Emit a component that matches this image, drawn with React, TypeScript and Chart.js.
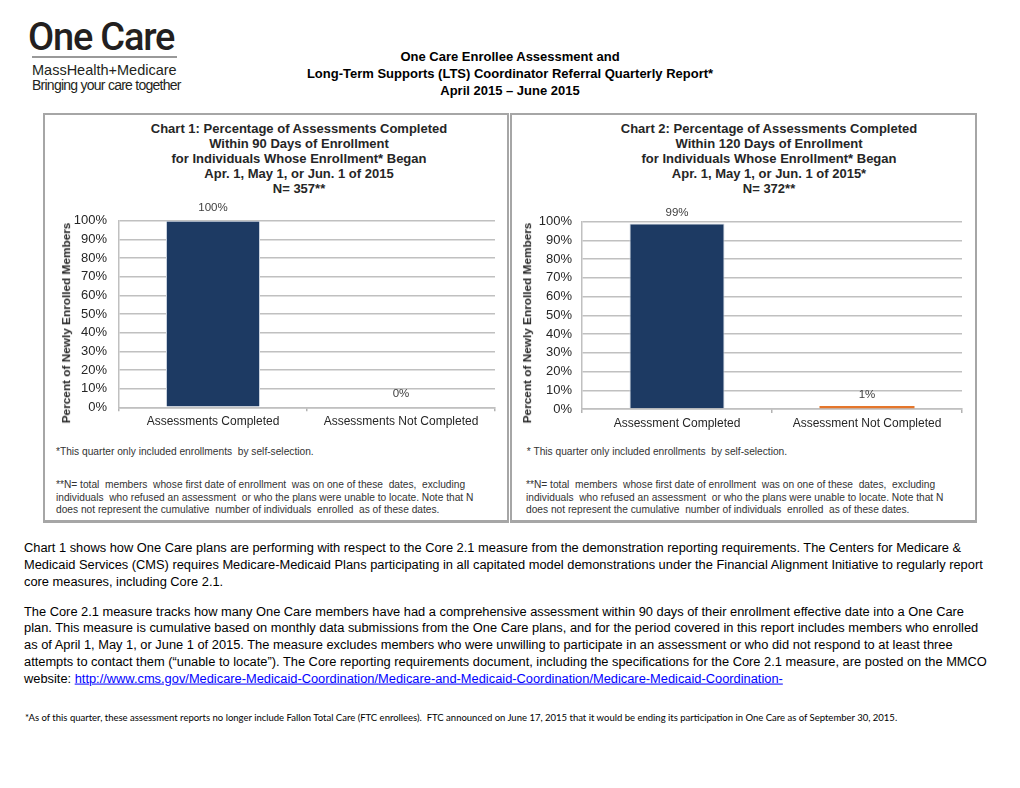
import React, { useEffect, useRef } from "react";
import { Chart, registerables } from "chart.js";

Chart.register(...registerables);

// ---------- data ----------
const chart1Categories = ["Assessments Completed", "Assessments Not Completed"];
const chart1Values = [100, 0];
const chart2Categories = ["Assessment Completed", "Assessment Not Completed"];
const chart2Values = [99, 1];
const barColors = ["#1d3a63", "#e5762b"];
const yMin = 0;
const yMax = 100;
const yStep = 10;

const chart1Title = [
  "Chart 1: Percentage of Assessments Completed",
  "Within 90 Days of Enrollment",
  "for Individuals Whose Enrollment* Began",
  "Apr. 1, May 1, or Jun. 1 of 2015",
  "N= 357**",
];
const chart2Title = [
  "Chart 2: Percentage of Assessments Completed",
  "Within 120 Days of Enrollment",
  "for Individuals Whose Enrollment* Began",
  "Apr. 1, May 1, or Jun. 1 of 2015*",
  "N= 372**",
];
const yAxisTitle = "Percent of Newly Enrolled Members";
const panelNote1 = ["*This quarter only included enrollments  by self-selection."];
const panelNote1b = [" * This quarter only included enrollments  by self-selection."];
const panelNote2 = [
  "**N= total  members  whose first date of enrollment  was on one of these  dates,  excluding",
  "individuals  who refused an assessment  or who the plans were unable to locate. Note that N",
  "does not represent the cumulative  number of individuals  enrolled  as of these dates.",
];

const reportTitle = [
  "One Care Enrollee Assessment and",
  "Long-Term Supports (LTS) Coordinator Referral Quarterly Report*",
  "April 2015 \u2013 June 2015",
];

const para1 = [
  "Chart 1 shows how One Care plans are performing with respect to the Core 2.1 measure from the demonstration reporting requirements. The Centers for Medicare &",
  "Medicaid Services (CMS) requires Medicare-Medicaid Plans participating in all capitated model demonstrations under the Financial Alignment Initiative to regularly report",
  "core measures, including Core 2.1.",
];
const para2 = [
  "The Core 2.1 measure tracks how many One Care members have had a comprehensive assessment within 90 days of their enrollment effective date into a One Care",
  "plan. This measure is cumulative based on monthly data submissions from the One Care plans, and for the period covered in this report includes members who enrolled",
  "as of April 1, May 1, or June 1 of 2015. The measure excludes members who were unwilling to participate in an assessment or who did not respond to at least three",
  "attempts to contact them (\u201cunable to locate\u201d). The Core reporting requirements document, including the specifications for the Core 2.1 measure, are posted on the MMCO",
];
const linkPrefix = "website: ";
const linkText =
  "http://www.cms.gov/Medicare-Medicaid-Coordination/Medicare-and-Medicaid-Coordination/Medicare-Medicaid-Coordination-";
const bottomNote =
  "*As of this quarter, these assessment reports no longer include Fallon Total Care (FTC enrollees).  FTC announced on June 17, 2015 that it would be ending its participation in One Care as of September 30, 2015.";

// ---------- helpers ----------
const SANS = "'Liberation Sans', Arial, Helvetica, sans-serif";

type TProps = {
  x: number;
  y: number;
  size: number;
  bold?: boolean;
  weight?: number;
  color?: string;
  center?: boolean;
  family?: string;
  spacing?: number;
  children: React.ReactNode;
};

function T({ x, y, size, bold, weight, color = "#000", center, family = SANS, spacing = 0, children }: TProps) {
  return (
    <div
      style={{
        position: "absolute",
        left: x,
        top: y,
        transform: `translate(${center ? "-50%" : "0"}, -50%)`,
        whiteSpace: "pre",
        fontSize: size,
        lineHeight: 1,
        fontWeight: weight ?? (bold ? 700 : 400),
        color,
        fontFamily: family,
        letterSpacing: spacing,
      }}
    >
      {children}
    </div>
  );
}

const valueLabelPlugin = {
  id: "valueLabels",
  afterDatasetsDraw(chart: any, _args: any, opts: any) {
    const { ctx } = chart;
    const meta = chart.getDatasetMeta(0);
    const ds = chart.data.datasets[0];
    ctx.save();
    ctx.font = `11.5px ${SANS}`;
    ctx.fillStyle = "#404040";
    ctx.textAlign = "center";
    ctx.textBaseline = "middle";
    meta.data.forEach((bar: any, i: number) => {
      ctx.fillText(`${ds.data[i]}%`, bar.x, bar.y - (opts.offset ?? 13));
    });
    ctx.restore();
  },
};

type Plot = { left: number; right: number; top: number; bottom: number };

function BarChart({
  labels,
  values,
  left,
  top,
  width,
  height,
  plot,
  tickPad,
  minBar,
  labelOffset,
}: {
  labels: string[];
  values: number[];
  left: number;
  top: number;
  width: number;
  height: number;
  plot: Plot;
  tickPad: number;
  minBar: number;
  labelOffset: number;
}) {
  const ref = useRef<HTMLCanvasElement | null>(null);
  useEffect(() => {
    if (!ref.current) return;
    const chart = new Chart(ref.current, {
      type: "bar",
      data: {
        labels,
        datasets: [
          {
            data: values,
            backgroundColor: barColors,
            borderColor: ["#c9d2de", "#e5762b"],
            borderWidth: [1, 0],
            barPercentage: 1,
            categoryPercentage: 0.5,
            minBarLength: minBar,
          },
        ],
      },
      plugins: [valueLabelPlugin as any],
      options: {
        responsive: false,
        animation: false,
        devicePixelRatio: 1,
        layout: { padding: { top: plot.top, right: width - plot.right, left: 0, bottom: 0 } },
        plugins: {
          legend: { display: false },
          tooltip: { enabled: false },
          title: { display: false },
          valueLabels: { offset: labelOffset },
        } as any,
        scales: {
          x: {
            ticks: { font: { family: SANS, size: 12 }, color: "#262626", padding: 3, maxRotation: 0 },
            grid: {
              display: true,
              drawOnChartArea: false,
              drawTicks: true,
              tickLength: 4,
              color: "#b3b3b3",
              lineWidth: 1.5,
              offset: true,
            },
            border: { display: true, color: "#b3b3b3", width: 1.5, z: -1 },
            afterFit: (s: any) => {
              s.height = height - plot.bottom;
            },
          },
          y: {
            min: yMin,
            max: yMax,
            ticks: {
              stepSize: yStep,
              callback: (v: any) => `${v}%`,
              font: { family: SANS, size: 13 },
              color: "#262626",
              padding: tickPad,
            },
            grid: { color: "#c0c0c0", lineWidth: 1.5, drawTicks: false },
            border: { display: true, color: "#c0c0c0", width: 1.5 },
            afterFit: (s: any) => {
              s.width = plot.left;
            },
          },
        },
      },
    });
    return () => chart.destroy();
  }, []);
  return (
    <canvas
      ref={ref}
      width={width}
      height={height}
      style={{ position: "absolute", left, top, width, height }}
    />
  );
}

function Panel({ x, w }: { x: number; w: number }) {
  return (
    <div
      style={{
        position: "absolute",
        left: x,
        top: 113,
        width: w,
        height: 410,
        border: "2px solid #a6a6a6",
        borderBottomWidth: 3,
        boxSizing: "border-box",
        background: "#fff",
      }}
    />
  );
}

function YTitle({ x, y }: { x: number; y: number }) {
  return (
    <div
      style={{
        position: "absolute",
        left: x,
        top: y,
        transform: "translate(-50%, -50%) rotate(-90deg)",
        whiteSpace: "nowrap",
        fontFamily: SANS,
        fontWeight: 700,
        fontSize: 11.8,
        lineHeight: 1,
        color: "#262626",
      }}
    >
      {yAxisTitle}
    </div>
  );
}

export default function App() {
  const titleYs = [128, 143, 158, 173, 188];
  const noteYs = [485, 498, 510];
  const p1Ys = [548, 565, 582];
  const p2Ys = [612, 628, 645, 662];
  const NOTE = 10.2;
  const BODY = 12.85;
  return (
    <div
      style={{
        position: "absolute",
        left: 0,
        top: 0,
        width: 1020,
        height: 788,
        background: "#fff",
        overflow: "hidden",
        fontFamily: SANS,
      }}
    >
      {/* logo */}
      <T x={28} y={36.5} size={38} weight={500} color="#231f20" spacing={-1.2} family="Roboto, 'Liberation Sans', sans-serif">
        One Care
      </T>
      <div style={{ position: "absolute", left: 32, top: 56, width: 145, height: 2, background: "#999" }} />
      <T x={32} y={70} size={14.5} color="#231f20">
        MassHealth+Medicare
      </T>
      <T x={32} y={85} size={14} color="#231f20" spacing={-0.75}>
        Bringing your care together
      </T>

      {/* report title */}
      {reportTitle.map((t, i) => (
        <T key={i} x={510} y={56 + i * 17} size={13} bold center>
          {t}
        </T>
      ))}

      {/* panels */}
      <Panel x={43} w={466} />
      <Panel x={510} w={467} />

      {chart1Title.map((t, i) => (
        <T key={i} x={299} y={titleYs[i]} size={13} bold center color="#262626">
          {t}
        </T>
      ))}
      {chart2Title.map((t, i) => (
        <T key={i} x={769} y={titleYs[i]} size={13} bold center color="#262626">
          {t}
        </T>
      ))}

      <BarChart
        labels={chart1Categories}
        values={chart1Values}
        left={46}
        top={196}
        width={460}
        height={240}
        plot={{ left: 73, right: 449, top: 24.7, bottom: 211.3 }}
        tickPad={12}
        minBar={0}
        labelOffset={13}
      />
      <BarChart
        labels={chart2Categories}
        values={chart2Values}
        left={512}
        top={196}
        width={464}
        height={240}
        plot={{ left: 70, right: 450, top: 25.7, bottom: 213 }}
        tickPad={10}
        minBar={3}
        labelOffset={11}
      />
      <YTitle x={67} y={323} />
      <YTitle x={528} y={323} />

      {/* panel footnotes */}
      <T x={56} y={452} size={NOTE} color="#333">
        {panelNote1[0]}
      </T>
      <T x={524} y={452} size={NOTE} color="#333">
        {panelNote1b[0]}
      </T>
      {panelNote2.map((t, i) => (
        <T key={"l" + i} x={56} y={noteYs[i]} size={NOTE} color="#333">
          {t}
        </T>
      ))}
      {panelNote2.map((t, i) => (
        <T key={"r" + i} x={526} y={noteYs[i]} size={NOTE} color="#333">
          {t}
        </T>
      ))}

      {/* body text */}
      {para1.map((t, i) => (
        <T key={"p1" + i} x={24} y={p1Ys[i]} size={BODY}>
          {t}
        </T>
      ))}
      {para2.map((t, i) => (
        <T key={"p2" + i} x={24} y={p2Ys[i]} size={BODY}>
          {t}
        </T>
      ))}
      <T x={24} y={679} size={BODY}>
        {linkPrefix}
        <span style={{ color: "#0000ff", textDecoration: "underline" }}>{linkText}</span>
      </T>

      <T x={25} y={718} size={9.5} family="Lato, 'Open Sans', sans-serif">
        {bottomNote}
      </T>
    </div>
  );
}
